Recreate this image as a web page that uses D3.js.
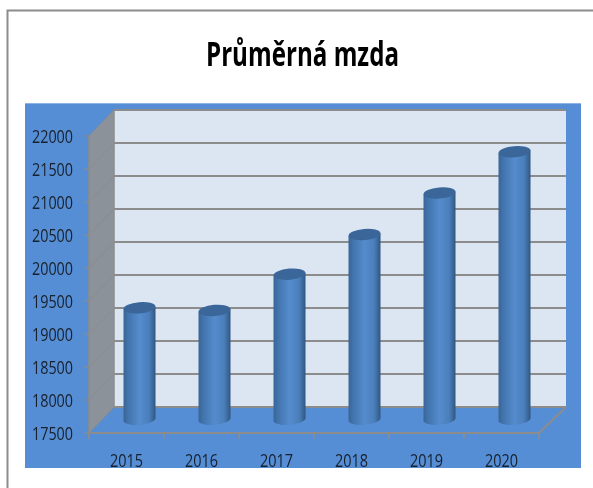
<!DOCTYPE html>
<html>
<head>
<meta charset="utf-8">
<script src="https://d3js.org/d3.v7.min.js"></script>
<style>
html, body { margin: 0; padding: 0; background: #fff; }
svg { display: block; filter: blur(0.4px); }
text { font-family: "Open Sans", "Noto Sans", sans-serif; fill: #17202c; }
</style>
</head>
<body>
<svg id="Target" width="593" height="488"></svg>
<script>
const years = ["2015", "2016", "2017", "2018", "2019", "2020"];
const wages = [19200, 19160, 19710, 20310, 20940, 21565];
const ticks = [17500, 18000, 18500, 19000, 19500, 20000, 20500, 21000, 21500, 22000];

const svg = d3.select("#Target");

// front edge of the 3d box, the back wall sits dx/dy behind it
const [dx, dy] = [25, 26];
const y = d3.scaleLinear().domain([17500, 22000]).range([433, 136]);
const x = d3.scaleBand().domain(years).range([89, 539]);

const grad = svg.append("defs").append("linearGradient").attr("id", "cyl");
[[0, "#3a6596"], [0.15, "#4274ad"], [0.5, "#558ccd"], [0.8, "#4a7fbc"], [0.95, "#38618f"], [1, "#2f5580"]]
    .forEach(s => grad.append("stop").attr("offset", s[0]).attr("stop-color", s[1]));

// outer frame
svg.append("path")
    .attr("d", "M593,10.5H7.5V488")
    .attr("fill", "none")
    .attr("stroke", "#8c8c8c")
    .attr("stroke-width", 2);

svg.append("text")
    .attr("x", 206).attr("y", 66)
    .attr("textLength", 193).attr("lengthAdjust", "spacingAndGlyphs")
    .attr("font-size", 34).attr("font-weight", 700)
    .style("fill", "#000")
    .text("Průměrná mzda");

// blue panel
svg.append("rect").attr("x", 25).attr("y", 103).attr("width", 556).attr("height", 365).attr("fill", "#558ed5");
svg.append("line").attr("x1", 25).attr("x2", 581).attr("y1", 103.5).attr("y2", 103.5).attr("stroke", "#8db3e2");

// walls
const back = x.range()[0] + dx, backR = x.range()[1] + dx + 2;
svg.append("rect")
    .attr("x", back).attr("y", y(22000) - dy)
    .attr("width", backR - back).attr("height", y(17500) - y(22000))
    .attr("fill", "#dce6f2");
svg.append("path")
    .attr("d", `M89,${y(22000)}L${back},${y(22000) - dy}V${y(17500) - dy}L89,${y(17500)}Z`)
    .attr("fill", "#8b9299");

// gridlines: tick and side wall thin, back wall heavier
const grid = svg.append("g").attr("fill", "none").attr("stroke", "#8c8c8c");
grid.selectAll(".side")
    .data(ticks)
    .join("path")
    .attr("class", "side")
    .attr("stroke-width", 1)
    .attr("d", d => `M84,${y(d)}H89L${back},${y(d) - dy}`);
grid.selectAll(".wall")
    .data(ticks)
    .join("path")
    .attr("class", "wall")
    .attr("stroke-width", 2)
    .attr("d", d => `M${back},${y(d) - dy}H${backR}`);
grid.append("path")
    .attr("stroke-width", 1.5)
    .attr("d", `M89,${y(22000)}V${y(17500) + 5}M${back},${y(22000) - dy}V${y(17500) - dy}`);
grid.append("path")
    .attr("stroke-width", 2)
    .attr("d", `M89,${y(17500)}H${x.range()[1]}L${backR},${y(17500) - dy}`);
grid.selectAll(".xt")
    .data(x.domain().concat("end"))
    .join("line")
    .attr("class", "xt")
    .attr("stroke-width", 1.5)
    .attr("x1", d => d === "end" ? x.range()[1] : x(d))
    .attr("x2", d => d === "end" ? x.range()[1] : x(d))
    .attr("y1", y(17500))
    .attr("y2", y(17500) + 6);

// cylinders
const rx = 16, ry = 5.6, tilt = -5;
const cx = d => x(d) + x.bandwidth() / 2 + dx / 2 + 0.5;
const cy = v => y(v) - dy / 2;
const bar = svg.selectAll(".bar")
    .data(years.map((d, i) => ({year: d, value: wages[i]})))
    .join("g")
    .attr("class", "bar");
bar.append("path")
    .attr("fill", "url(#cyl)")
    .attr("d", d => {
        const c = cx(d.year), t = cy(d.value), b = cy(17500);
        const sx = 1.4;
        return `M${c - rx},${t + sx}L${c - rx},${b}A${rx},${ry} ${tilt} 0 0 ${c + rx},${b - sx}L${c + rx},${t - sx}Z`;
    });
bar.append("ellipse")
    .attr("cx", d => cx(d.year))
    .attr("cy", d => cy(d.value))
    .attr("rx", rx)
    .attr("ry", ry)
    .attr("transform", d => `rotate(${tilt} ${cx(d.year)} ${cy(d.value)})`)
    .attr("fill", "#3a6699");

// labels
svg.selectAll(".yl")
    .data(ticks)
    .join("text")
    .attr("class", "yl")
    .attr("x", 32)
    .attr("y", d => y(d) + 7)
    .attr("textLength", 41)
    .attr("lengthAdjust", "spacingAndGlyphs")
    .attr("font-size", 18)
    .text(d => d);
svg.selectAll(".xl")
    .data(years)
    .join("text")
    .attr("class", "xl")
    .attr("x", d => x(d) + x.bandwidth() / 2)
    .attr("y", 467)
    .attr("text-anchor", "middle")
    .attr("textLength", 33)
    .attr("lengthAdjust", "spacingAndGlyphs")
    .attr("font-size", 18)
    .text(d => d);
</script>
</body>
</html>
